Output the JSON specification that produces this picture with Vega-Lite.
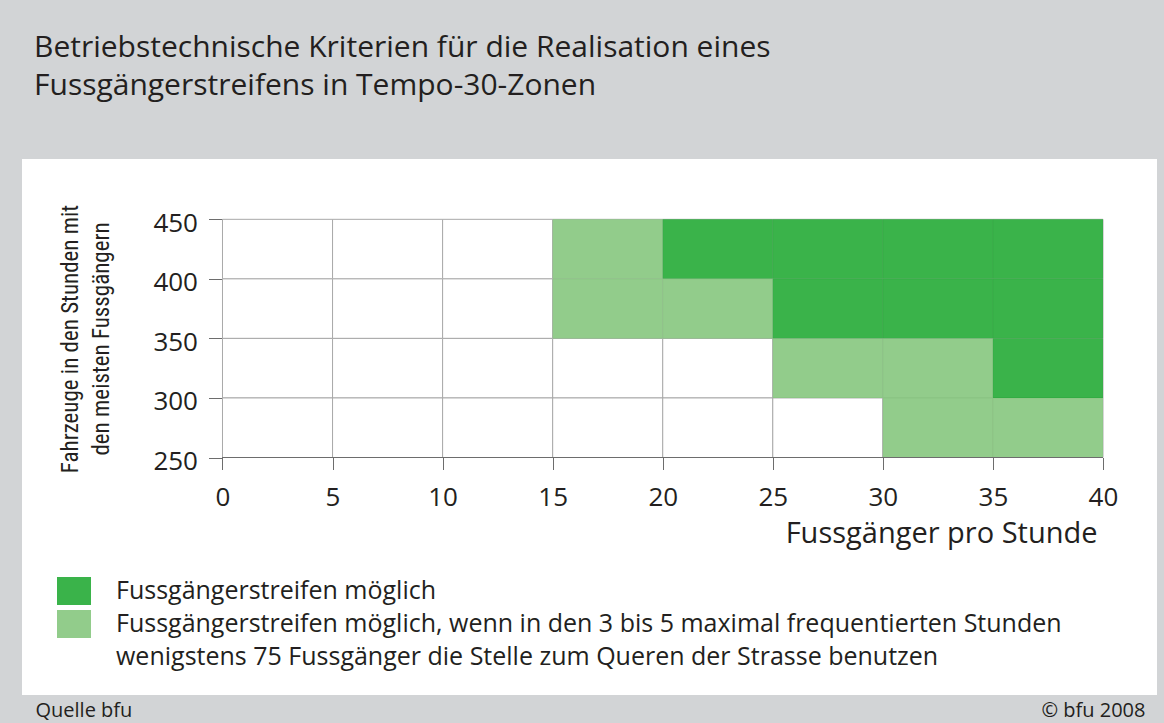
{
  "$schema": "https://vega.github.io/schema/vega-lite/v6.json",
  "width": 1135,
  "height": 536,
  "autosize": {"type": "none"},
  "padding": {"left": 22, "top": 159, "right": 7, "bottom": 28},
  "background": "#d2d4d6",
  "config": {
    "view": {"fill": "white", "stroke": null},
    "font": "Open Sans"
  },
  "title": {
    "text": ["Betriebstechnische Kriterien für die Realisation eines", "Fussgängerstreifens in Tempo-30-Zonen"],
    "anchor": "start",
    "frame": "group",
    "dx": 12,
    "offset": 28,
    "baseline": "bottom",
    "lineHeight": 38,
    "fontSize": 30,
    "font": "Open Sans",
    "fontWeight": "normal",
    "color": "#231f20"
  },
  "data": {
    "values": [
      {"fg_von": 0, "fg_bis": 5, "kfz_von": 400, "kfz_bis": 450, "status": "nein"},
      {"fg_von": 5, "fg_bis": 10, "kfz_von": 400, "kfz_bis": 450, "status": "nein"},
      {"fg_von": 10, "fg_bis": 15, "kfz_von": 400, "kfz_bis": 450, "status": "nein"},
      {"fg_von": 15, "fg_bis": 20, "kfz_von": 400, "kfz_bis": 450, "status": "bedingt"},
      {"fg_von": 20, "fg_bis": 25, "kfz_von": 400, "kfz_bis": 450, "status": "möglich"},
      {"fg_von": 25, "fg_bis": 30, "kfz_von": 400, "kfz_bis": 450, "status": "möglich"},
      {"fg_von": 30, "fg_bis": 35, "kfz_von": 400, "kfz_bis": 450, "status": "möglich"},
      {"fg_von": 35, "fg_bis": 40, "kfz_von": 400, "kfz_bis": 450, "status": "möglich"},
      {"fg_von": 0, "fg_bis": 5, "kfz_von": 350, "kfz_bis": 400, "status": "nein"},
      {"fg_von": 5, "fg_bis": 10, "kfz_von": 350, "kfz_bis": 400, "status": "nein"},
      {"fg_von": 10, "fg_bis": 15, "kfz_von": 350, "kfz_bis": 400, "status": "nein"},
      {"fg_von": 15, "fg_bis": 20, "kfz_von": 350, "kfz_bis": 400, "status": "bedingt"},
      {"fg_von": 20, "fg_bis": 25, "kfz_von": 350, "kfz_bis": 400, "status": "bedingt"},
      {"fg_von": 25, "fg_bis": 30, "kfz_von": 350, "kfz_bis": 400, "status": "möglich"},
      {"fg_von": 30, "fg_bis": 35, "kfz_von": 350, "kfz_bis": 400, "status": "möglich"},
      {"fg_von": 35, "fg_bis": 40, "kfz_von": 350, "kfz_bis": 400, "status": "möglich"},
      {"fg_von": 0, "fg_bis": 5, "kfz_von": 300, "kfz_bis": 350, "status": "nein"},
      {"fg_von": 5, "fg_bis": 10, "kfz_von": 300, "kfz_bis": 350, "status": "nein"},
      {"fg_von": 10, "fg_bis": 15, "kfz_von": 300, "kfz_bis": 350, "status": "nein"},
      {"fg_von": 15, "fg_bis": 20, "kfz_von": 300, "kfz_bis": 350, "status": "nein"},
      {"fg_von": 20, "fg_bis": 25, "kfz_von": 300, "kfz_bis": 350, "status": "nein"},
      {"fg_von": 25, "fg_bis": 30, "kfz_von": 300, "kfz_bis": 350, "status": "bedingt"},
      {"fg_von": 30, "fg_bis": 35, "kfz_von": 300, "kfz_bis": 350, "status": "bedingt"},
      {"fg_von": 35, "fg_bis": 40, "kfz_von": 300, "kfz_bis": 350, "status": "möglich"},
      {"fg_von": 0, "fg_bis": 5, "kfz_von": 250, "kfz_bis": 300, "status": "nein"},
      {"fg_von": 5, "fg_bis": 10, "kfz_von": 250, "kfz_bis": 300, "status": "nein"},
      {"fg_von": 10, "fg_bis": 15, "kfz_von": 250, "kfz_bis": 300, "status": "nein"},
      {"fg_von": 15, "fg_bis": 20, "kfz_von": 250, "kfz_bis": 300, "status": "nein"},
      {"fg_von": 20, "fg_bis": 25, "kfz_von": 250, "kfz_bis": 300, "status": "nein"},
      {"fg_von": 25, "fg_bis": 30, "kfz_von": 250, "kfz_bis": 300, "status": "nein"},
      {"fg_von": 30, "fg_bis": 35, "kfz_von": 250, "kfz_bis": 300, "status": "bedingt"},
      {"fg_von": 35, "fg_bis": 40, "kfz_von": 250, "kfz_bis": 300, "status": "bedingt"}
    ]
  },
  "resolve": {"axis": {"x": "independent", "y": "independent"}},
  "layer": [
    {
      "mark": {"type": "rect", "fill": "white", "stroke": "#a9a9a9", "strokeWidth": 1},
      "encoding": {
        "x": {
          "field": "fg_von", "type": "quantitative",
          "scale": {"domain": [-9.108, 42.454], "nice": false, "zero": false},
          "axis": {
            "orient": "bottom", "offset": -237.5,
            "values": [0, 5, 10, 15, 20, 25, 30, 35, 40],
            "domain": false, "grid": false,
            "ticks": true, "tickSize": 12, "tickColor": "#6d6d6d", "tickWidth": 1,
            "labelFont": "Open Sans", "labelFontSize": 26, "labelColor": "#231f20", "labelPadding": 15, "labelFlush": false,
            "title": "Fussgänger pro Stunde",
            "titleFont": "Open Sans", "titleFontSize": 29, "titleFontWeight": "normal", "titleColor": "#231f20",
            "titleX": 1075, "titleY": 84.5, "titleAlign": "right", "titleBaseline": "alphabetic", "titleAnchor": "end"
          }
        },
        "x2": {"field": "fg_bis"},
        "y": {
          "field": "kfz_von", "type": "quantitative",
          "scale": {"domain": [50.6, 500.64], "nice": false, "zero": false},
          "axis": {
            "orient": "left", "offset": -200.5,
            "values": [250, 300, 350, 400, 450],
            "domain": false, "grid": false,
            "ticks": true, "tickSize": 14, "tickColor": "#6d6d6d", "tickWidth": 1,
            "labelFont": "Open Sans", "labelFontSize": 26, "labelColor": "#231f20", "labelPadding": 11, "labelOffset": 4, "labelFlush": false,
            "title": ["Fahrzeuge in den Stunden mit", "den meisten Fussgängern"],
            "titleFont": "Roboto Condensed", "titleFontSize": 23, "titleFontWeight": "normal", "titleColor": "#231f20",
            "titleAngle": -90, "titleX": -145, "titleY": 179.5, "titleAlign": "center", "titleBaseline": "alphabetic", "titleLineHeight": 31
          }
        },
        "y2": {"field": "kfz_bis"}
      }
    },
    {
      "transform": [{"filter": "datum.status != 'nein'"}],
      "mark": {"type": "rect", "opacity": 0.9, "strokeWidth": 0},
      "encoding": {
        "x": {"field": "fg_von", "type": "quantitative", "axis": null},
        "x2": {"field": "fg_bis"},
        "y": {"field": "kfz_von", "type": "quantitative", "axis": null},
        "y2": {"field": "kfz_bis"},
        "color": {
          "field": "status", "type": "nominal",
          "scale": {"domain": ["möglich", "bedingt", "hinweis"], "range": ["#25ab36", "#86c77e", "rgba(255,255,255,0)"]},
          "legend": {
            "title": null,
            "orient": "none", "legendX": 35, "legendY": 417, "padding": 0,
            "symbolType": "M-1,-0.824H1V0.824H-1Z", "symbolSize": 1156, "symbolStrokeWidth": 0, "symbolOpacity": 0.9,
            "clipHeight": 30, "rowPadding": 3,
            "labelFont": "Open Sans", "labelFontSize": 25, "labelColor": "#231f20", "labelOffset": 25, "labelLimit": 1100, "labelBaseline": "middle",
            "labelExpr": "datum.value == 'möglich' ? 'Fussgängerstreifen möglich' : datum.value == 'bedingt' ? 'Fussgängerstreifen möglich, wenn in den 3 bis 5 maximal frequentierten Stunden' : 'wenigstens 75 Fussgänger die Stelle zum Queren der Strasse benutzen'"
          }
        }
      }
    },
    {
      "mark": {"type": "rule", "color": "#6d6d6d", "strokeWidth": 1},
      "encoding": {
        "x": {
          "datum": 0, "type": "quantitative",
          "axis": {
            "orient": "bottom", "domain": false, "ticks": false, "labels": false, "grid": false,
            "title": "Quelle bfu", "titleFont": "Open Sans", "titleFontSize": 20, "titleFontWeight": "normal", "titleColor": "#231f20",
            "titleX": 13, "titleY": 21, "titleAlign": "left", "titleBaseline": "alphabetic", "titleAnchor": "start"
          }
        },
        "x2": {"datum": 40},
        "y": {
          "datum": 250, "type": "quantitative",
          "axis": {
            "orient": "right", "domain": false, "ticks": false, "labels": false, "grid": false,
            "title": "© bfu 2008", "titleFont": "Open Sans", "titleFontSize": 20, "titleFontWeight": "normal", "titleColor": "#231f20",
            "titleAngle": 0, "titleX": -12, "titleY": 557, "titleAlign": "right", "titleBaseline": "alphabetic"
          }
        }
      }
    }
  ]
}
